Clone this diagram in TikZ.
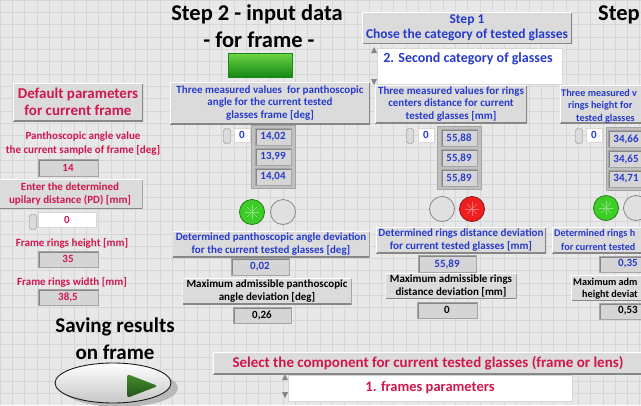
\documentclass[tikz,border=0pt]{standalone}
\usepackage{fontspec}
\setmainfont{Carlito}
\usetikzlibrary{shapes.geometric}
\definecolor{lvback}{RGB}{232,232,232}
\definecolor{lvgrid}{RGB}{214,214,214}
\definecolor{lvlabel}{RGB}{219,219,219}
\definecolor{lvedge}{RGB}{165,165,165}
\definecolor{lvdark}{RGB}{135,135,135}
\definecolor{lvind}{RGB}{213,213,213}
\definecolor{lvred}{RGB}{208,22,78}
\definecolor{lvblue}{RGB}{38,58,205}
\definecolor{ledgreen}{RGB}{62,205,40}
\definecolor{ledred}{RGB}{240,30,30}
\definecolor{ledoff}{RGB}{224,224,224}
\definecolor{barhi}{RGB}{110,215,70}
\definecolor{barlo}{RGB}{20,135,20}
\definecolor{playhi}{RGB}{70,140,45}
\definecolor{playlo}{RGB}{35,85,25}

\begin{document}
\begin{tikzpicture}[x=1pt,y=-1pt]
  \tikzstyle{every node}=[font=\bfseries\fontsize{11}{12.5}\selectfont, inner sep=0pt]
  \tikzstyle{lbl}=[rectangle, fill=lvlabel, align=center,
    path picture={\draw[lvdark, line width=2pt] (path picture bounding box.south west) -- (path picture bounding box.south east) -- (path picture bounding box.north east);
                  \draw[white, line width=1.4pt] (path picture bounding box.south west) -- (path picture bounding box.north west) -- (path picture bounding box.north east);}]
  \tikzstyle{ind}=[rectangle, fill=lvind, draw=lvedge, line width=0.6pt,
    path picture={\draw[lvdark, line width=3pt] (path picture bounding box.south west) -- (path picture bounding box.north west) -- (path picture bounding box.north east);}]
  \tikzstyle{ctl}=[rectangle, fill=white, draw=lvgrid]
  \tikzstyle{cell}=[ind, minimum width=36pt, minimum height=17pt, text=lvblue]
  \tikzstyle{arr}=[rectangle, fill=lvedge!70, draw=lvedge, minimum width=44pt, minimum height=63pt]
  \tikzstyle{spin}=[rectangle, rounded corners=2.5pt, minimum width=7pt, minimum height=15pt, fill=lvlabel, draw=lvdark]
  \tikzstyle{led}=[circle, minimum size=25pt, line width=0.8pt]
  \tikzstyle{bigtitle}=[font=\bfseries\fontsize{22.5}{26}\selectfont]
  \tikzstyle{edgetext}=[anchor=west, font=\bfseries\fontsize{10.2}{12.5}\selectfont]
  \useasboundingbox (0,0) rectangle (641,405);
  \clip (0,0) rectangle (641,405);
  \fill[lvback] (0,0) rectangle (641,405);
  \draw[lvgrid, step=12.3pt] (0,405) grid (641,0);

  % titles and step 1
  \node[bigtitle] (steptwo) at (257,14) {Step 2 - input data};
  \node[bigtitle] (forframe) at (259,40) {- for frame -};
  \node[bigtitle, anchor=east] (stepthree) at (640,15) {Step};
  \node[rectangle, minimum width=64pt, minimum height=24pt, top color=barhi, bottom color=barlo, draw=barlo] (stepled) at (260,65) {};
  \node[lbl, minimum width=210pt, minimum height=31pt, text=lvblue, font=\bfseries\fontsize{13.5}{15}\selectfont] (stepone) at (467,28) {Step 1\\Chose the category of tested glasses};
  \node[ctl, minimum width=185pt, minimum height=36pt] (category) at (470,66) {};
  \node[text=lvblue, font=\bfseries\fontsize{14}{16}\selectfont] (categorytxt) at (468,59) {2. Second category of glasses};
  \fill[lvdark] (371,53) -- (377,53) -- (374,47) -- cycle;
  \fill[lvdark] (371,79) -- (377,79) -- (374,85) -- cycle;

  % default parameters
  \node[lbl, minimum width=130pt, minimum height=38pt, text=lvred, font=\bfseries\fontsize{15}{17.5}\selectfont] (defaults) at (78,102) {Default parameters\\for current frame};
  \node[text=lvred, align=center, font=\bfseries\fontsize{11}{14}\selectfont] (panthvallbl) at (83,144) {Panthoscopic angle value\\the current sample of frame [deg]};
  \node[ind, minimum width=60pt, minimum height=17pt, text=lvred] (panthval) at (68,168) {14};
  \node[lbl, minimum width=145pt, minimum height=29pt, text=lvred] (pdlbl) at (70,194) {Enter the determined\\upilary distance (PD) [mm]};
  \node[spin] (pdspin) at (33,222) {};
  \node[ctl, minimum width=58pt, minimum height=15pt, text=lvred] (pdval) at (67,220) {0};
  \node[text=lvred] (ringhlbl) at (72,243) {Frame rings height [mm]};
  \node[ind, minimum width=60pt, minimum height=16pt, text=lvred] (ringh) at (68,259) {35};
  \node[text=lvred] (ringwlbl) at (72,282) {Frame rings width [mm]};
  \node[ind, minimum width=60pt, minimum height=16pt, text=lvred] (ringw) at (68,297) {38,5};

  % saving button
  \node[align=center, font=\bfseries\fontsize{21}{27}\selectfont] (savelbl) at (115,339) {Saving results\\on frame};
  \fill[gray!55] (120,388) ellipse (58pt and 19pt);
  \node[ellipse, minimum width=116pt, minimum height=40pt, top color=white, bottom color=gray!45, draw=gray!20!black, line width=0.9pt] (savebtn) at (113,383) {};
  \shade[top color=playhi, bottom color=playlo, rounded corners=3pt] (127,374) -- (158,386) -- (127,398) -- cycle;

  % panthoscopic angle
  \node[lbl, minimum width=200pt, minimum height=42pt, text=lvblue] (panthlbl) at (270,103) {Three measured values\ \ for panthoscopic\\angle for the current tested\\glasses frame [deg]};
  \node[spin] (panthspin) at (227,136) {};
  \node[ctl, minimum width=16pt, minimum height=14pt, text=lvblue] (panthidx) at (242,135) {0};
  \node[arr] (pantharr) at (273,157) {};
  \node[cell] (pantha) at (273,137) {14,02};
  \node[cell] (panthb) at (273,157) {13,99};
  \node[cell] (panthc) at (273,177) {14,04};
  \node[led, fill=ledgreen, draw=ledgreen!60!black] (panthok) at (252,212) {};
  \foreach \a in {0,45,...,315}
    \draw[ledgreen!60!white, thin] (panthok.center) -- ++(\a:7pt);
  \node[led, fill=ledoff, draw=lvdark] (panthbad) at (283,212) {};
  \node[lbl, minimum width=197pt, minimum height=26pt, text=lvblue] (panthdev) at (271,244) {Determined panthoscopic angle deviation\\for the current tested glasses [deg]};
  \node[ind, minimum width=58pt, minimum height=17pt, text=lvblue] (panthdevval) at (260,267) {0,02};
  \node[lbl, minimum width=169pt, minimum height=26pt] (panthmax) at (267,291) {Maximum admissible panthoscopic\\angle deviation [deg]};
  \node[ind, minimum width=58pt, minimum height=16pt] (panthmaxval) at (262,315) {0,26};

  % rings distance
  \node[lbl, minimum width=152pt, minimum height=38pt, text=lvblue] (distlbl) at (451,104) {Three measured values for rings\\centers distance for current\\tested glasses [mm]};
  \node[spin] (distspin) at (410,136) {};
  \node[ctl, minimum width=16pt, minimum height=14pt, text=lvblue] (distidx) at (426,135) {0};
  \node[arr] (distarr) at (459,158) {};
  \node[cell] (dista) at (459,138) {55,88};
  \node[cell] (distb) at (459,158) {55,89};
  \node[cell] (distc) at (459,178) {55,89};
  \node[led, fill=ledoff, draw=lvdark] (distok) at (442,209) {};
  \node[led, fill=ledred, draw=ledred!60!black] (distbad) at (472,209) {};
  \foreach \a in {0,45,...,315}
    \draw[ledred!60!white, thin] (distbad.center) -- ++(\a:7pt);
  \node[lbl, minimum width=170pt, minimum height=26pt, text=lvblue] (distdev) at (461,240) {Determined rings distance deviation\\for current tested glasses [mm]};
  \node[ind, minimum width=58pt, minimum height=17pt, text=lvblue] (distdevval) at (447,264) {55,89};
  \node[lbl, minimum width=131pt, minimum height=25pt] (distmax) at (451,286) {Maximum admissible rings\\distance deviation [mm]};
  \node[ind, minimum width=60pt, minimum height=16pt] (distmaxval) at (447,310) {0};

  % rings height
  \node[lbl, anchor=west, minimum width=100pt, minimum height=38pt] (heightlbl) at (560,104) {};
  \node[edgetext, text=lvblue] (heightlbla) at (561,93) {Three measured v};
  \node[edgetext, text=lvblue] (heightlblb) at (568,106) {rings height for};
  \node[edgetext, text=lvblue] (heightlblc) at (576,119) {tested glasses};
  \node[spin] (heightspin) at (579,136) {};
  \node[ctl, minimum width=16pt, minimum height=14pt, text=lvblue] (heightidx) at (594,135) {0};
  \node[arr] (heightarr) at (628,159) {};
  \node[cell] (heighta) at (626,139) {34,66};
  \node[cell] (heightb) at (626,159) {34,65};
  \node[cell] (heightc) at (626,179) {34,71};
  \node[led, fill=ledgreen, draw=ledgreen!60!black] (heightok) at (606,208) {};
  \foreach \a in {0,45,...,315}
    \draw[ledgreen!60!white, thin] (heightok.center) -- ++(\a:7pt);
  \node[led, fill=ledoff, draw=lvdark] (heightbad) at (636,208) {};
  \node[lbl, anchor=west, minimum width=100pt, minimum height=26pt] (heightdev) at (552,240) {};
  \node[edgetext, text=lvblue] (heightdeva) at (554,234) {Determined rings h};
  \node[edgetext, text=lvblue] (heightdevb) at (561,247) {for current tested};
  \node[ind, minimum width=58pt, minimum height=16pt, text=lvblue] (heightdevval) at (628,264) {0,35};
  \node[lbl, anchor=west, minimum width=100pt, minimum height=25pt] (heightmax) at (571,288) {};
  \node[edgetext] (heightmaxa) at (573,282) {Maximum adm};
  \node[edgetext] (heightmaxb) at (582,295) {height deviat};
  \node[ind, minimum width=58pt, minimum height=16pt] (heightmaxval) at (628,311) {0,53};

  % component selection
  \node[lbl, minimum width=430pt, minimum height=22pt, text=lvred, font=\bfseries\fontsize{15}{17}\selectfont] (componentlbl) at (428,363) {Select the component for current tested glasses (frame or lens)};
  \node[ctl, minimum width=284pt, minimum height=26pt, text=lvred, font=\bfseries\fontsize{14.5}{17}\selectfont] (component) at (430,388) {1. frames parameters};
  \fill[lvdark] (282,380) -- (288,380) -- (285,374) -- cycle;
  \fill[lvdark] (282,392) -- (288,392) -- (285,398) -- cycle;
\end{tikzpicture}
\end{document}
